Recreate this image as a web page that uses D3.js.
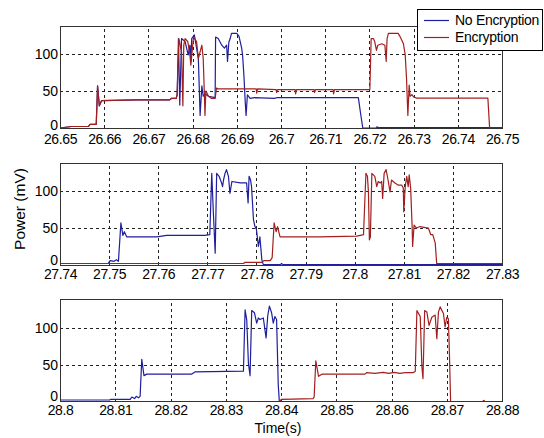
<!DOCTYPE html>
<html>
<head>
<meta charset="utf-8">
<script src="https://cdn.jsdelivr.net/npm/d3@7"></script>
<style>
  body { margin: 0; background: #fff; }
  text { font-family: "Liberation Sans", Arial, sans-serif; }
</style>
</head>
<body>
<svg id="chart" width="544" height="438"></svg>
<script>
// --- data: [time (s), power (mV)] ---
const seriesNames = ["No Encryption", "Encryption"]
const yTicks = [0, 50, 100]

const xTicks1 = [26.65, 26.66, 26.67, 26.68, 26.69, 26.70, 26.71, 26.72, 26.73, 26.74, 26.75]
const xLabels1 = ["26.65", "26.66", "26.67", "26.68", "26.69", "26.7", "26.71", "26.72", "26.73", "26.74", "26.75"]
const xTicks2 = [27.74, 27.75, 27.76, 27.77, 27.78, 27.79, 27.80, 27.81, 27.82, 27.83]
const xLabels2 = ["27.74", "27.75", "27.76", "27.77", "27.78", "27.79", "27.8", "27.81", "27.82", "27.83"]
const xTicks3 = [28.80, 28.81, 28.82, 28.83, 28.84, 28.85, 28.86, 28.87, 28.88]
const xLabels3 = ["28.8", "28.81", "28.82", "28.83", "28.84", "28.85", "28.86", "28.87", "28.88"]

const noEnc1 = [
  [26.65,0],[26.6526,2],[26.6564,2],[26.6568,5],[26.6582,5],[26.6585,57],[26.6589,30],[26.6594,37],
  [26.6673,38],[26.6748,38],[26.6752,40],[26.6763,40],[26.6765,45],
  [26.6768,121],[26.6771,31],[26.6775,121],[26.6783,117],[26.679,99],[26.6794,112],[26.6796,90],
  [26.6798,121],[26.6804,126],[26.6809,108],[26.6813,94],[26.6815,56],[26.6817,17],[26.6821,57],
  [26.6824,43],[26.6828,46],[26.6836,43],[26.6851,41],[26.6852,123],[26.6858,121],[26.6866,112],
  [26.6872,108],[26.6877,112],[26.6879,90],[26.6882,116],[26.6885,121],[26.6888,128],[26.69,128],
  [26.6905,124],[26.6911,108],[26.6913,99],[26.6916,72],[26.6919,36],[26.6921,17],[26.6924,45],
  [26.693,40],[26.694,41],[26.6985,40],[26.699,41],[26.7175,41],[26.718,20],[26.7185,0],
  [26.7215,0],[26.7217,1.5],[26.722,0.5],[26.75,0.5]
]
const enc1 = [
  [26.65,0],[26.6526,2],[26.6564,2],[26.6568,5],[26.6582,5],[26.6585,57],[26.6589,30],[26.6594,37],
  [26.6673,38],[26.6748,38],[26.6752,40],[26.6763,40],[26.6765,45],
  [26.6769,121],[26.6775,103],[26.6778,30],[26.678,112],[26.6783,121],[26.6789,117],[26.6794,99],
  [26.6796,85],[26.6802,123],[26.6809,117],[26.6813,94],[26.6817,103],[26.6821,112],[26.6824,94],
  [26.6826,58],[26.6828,17],[26.683,50],[26.6836,43],[26.6843,40],[26.6851,40],[26.6854,54],
  [26.6858,53],[26.6944,53],[26.6945,47],[26.6947,53],[26.6989,52],[26.699,48],[26.6992,52],
  [26.7032,52],[26.7033,46],[26.7035,52],[26.7075,52],[26.7076,48],[26.7078,52],[26.7118,52],
  [26.7119,46],[26.7121,52],[26.7201,52],
  [26.7204,121],[26.7209,121],[26.7212,117],[26.7216,105],[26.7219,112],[26.7228,114],[26.7235,112],
  [26.7238,90],[26.724,121],[26.7243,128],[26.7265,128],[26.7269,124],[26.7277,114],[26.7281,99],
  [26.7284,67],[26.7287,17],[26.729,58],[26.7292,43],[26.7296,45],[26.73,42],[26.7307,40.5],
  [26.7468,40.5],[26.7472,0],[26.75,0]
]

const noEnc2 = [
  [27.74,2],[27.7498,2],[27.7502,6],[27.751,5],[27.7515,7],[27.7519,5],[27.7524,57],[27.7528,40],
  [27.7531,45],[27.7536,38],[27.7597,38],[27.7617,40],[27.7695,40],[27.7705,41],
  [27.7709,124],[27.7712,75],[27.7716,16],[27.7719,124],[27.7724,120],[27.7729,111],[27.7731,106],
  [27.7733,115],[27.7736,124],[27.7739,129],[27.7743,120],[27.7746,97],[27.775,113],[27.7767,111],
  [27.778,111],[27.7783,84],[27.7785,120],[27.7788,115],[27.779,106],[27.7794,61],[27.7797,52],
  [27.78,48],[27.7804,25],[27.7807,38],[27.7811,7],[27.7814,0.5],[27.7849,0.5],[27.7851,2],
  [27.7854,0.5],[27.83,0.5]
]
const enc2 = [
  [27.74,2],[27.7774,2],[27.7776,3.5],[27.7811,3.5],[27.7815,6],[27.7828,6],[27.7832,10],
  [27.7836,57],[27.784,45],[27.7843,52],[27.7848,38],[27.7929,38],[27.8004,39],[27.8014,40.5],
  [27.8018,41],[27.802,75],[27.8023,124],[27.8026,120],[27.8028,99],[27.803,34],[27.8032,38],
  [27.8035,124],[27.8041,120],[27.8045,106],[27.8048,113],[27.8052,111],[27.8055,113],[27.8057,90],
  [27.806,124],[27.8064,129],[27.8068,115],[27.8072,99],[27.8075,115],[27.8082,111],[27.8089,108],
  [27.8096,108],[27.8099,104],[27.81,72],[27.8103,106],[27.8106,120],[27.8109,106],[27.8111,122],
  [27.8114,104],[27.8117,52],[27.8118,25],[27.8121,54],[27.8126,50],[27.8133,52],[27.815,50],
  [27.8155,41],[27.8159,41],[27.8164,30],[27.8167,2],[27.83,2]
]

const noEnc3 = [
  [28.8,2],[28.809,2],[28.8092,3],[28.8127,3],[28.813,6],[28.8135,4],[28.8138,7],[28.8142,5],
  [28.8145,7],[28.8148,57],[28.8152,35],[28.8157,37],[28.8238,37],[28.8244,40],[28.8332,41],
  [28.8335,124],[28.8338,110],[28.8341,52],[28.8344,35],[28.8347,123],[28.8352,120],[28.8356,106],
  [28.8359,113],[28.8362,111],[28.8368,113],[28.8373,86],[28.8376,116],[28.8379,129],[28.8383,120],
  [28.8386,106],[28.8389,115],[28.8392,111],[28.8395,23],[28.8397,0],[28.88,0]
]
const enc3 = [
  [28.8,0],[28.8397,0],[28.8401,3],[28.8458,4],[28.846,6],[28.8463,55],[28.8468,34],[28.8474,37],
  [28.8552,37],[28.8555,39],[28.857,38],[28.8585,39.5],[28.8595,38],[28.8605,39.5],[28.8615,38],
  [28.8625,39],[28.8639,39],[28.8643,41],[28.8646,123],[28.8652,115],[28.8655,47],[28.8657,31],
  [28.866,123],[28.8664,121],[28.8668,103],[28.8673,114],[28.8679,117],[28.8682,85],[28.8685,121],
  [28.8688,128],[28.8694,119],[28.8697,101],[28.87,114],[28.8703,112],[28.8705,60],[28.8707,0],
  [28.8765,0],[28.8767,1.5],[28.8769,0],[28.88,0]
]

// --- layout ---
const left = 60
const right = 502
const yMax = 138
const colors = ["#1f1f9e", "#a31f1f"]

const panels = [
  { top: 26, bottom: 128, ticks: xTicks1, labels: xLabels1, series: [noEnc1, enc1], pad: 6.5, zeroDy: "0.1em" },
  { top: 163, bottom: 265, ticks: xTicks2, labels: xLabels2, series: [noEnc2, enc2], pad: 4, zeroDy: "-0.05em" },
  { top: 299.5, bottom: 401.5, ticks: xTicks3, labels: xLabels3, series: [noEnc3, enc3], pad: 4, zeroDy: "-0.05em" }
]

const svg = d3.select("#chart")

panels.forEach(p => {
  const x = d3.scaleLinear()
    .domain([p.ticks[0], p.ticks[p.ticks.length - 1]])
    .range([left, right])
  const y = d3.scaleLinear()
    .domain([0, yMax])
    .range([p.bottom, p.top])
  const h = p.bottom - p.top

  const g = svg.append("g")

  // dashed grid
  g.append("g")
    .attr("transform", `translate(0,${p.bottom})`)
    .call(d3.axisBottom(x).tickValues(p.ticks).tickSize(-h).tickFormat(""))
    .call(s => s.select(".domain").remove())
    .selectAll("line")
    .attr("stroke", "#222")
    .attr("stroke-dasharray", "3,3")
    .attr("shape-rendering", "crispEdges")

  g.append("g")
    .attr("transform", `translate(${left},0)`)
    .call(d3.axisLeft(y).tickValues(yTicks.slice(1)).tickSize(-(right - left)).tickFormat(""))
    .call(s => s.select(".domain").remove())
    .selectAll("line")
    .attr("stroke", "#222")
    .attr("stroke-dasharray", "3,3")
    .attr("shape-rendering", "crispEdges")

  // traces
  const line = d3.line()
    .x(d => x(d[0]))
    .y(d => y(d[1]))

  p.series.forEach((s, i) => {
    g.append("path")
      .datum(s)
      .attr("fill", "none")
      .attr("stroke", colors[i])
      .attr("stroke-width", 1.2)
      .attr("stroke-linejoin", "round")
      .attr("d", line)
  })

  // frame
  g.append("rect")
    .attr("x", left)
    .attr("y", p.top)
    .attr("width", right - left)
    .attr("height", h)
    .attr("fill", "none")
    .attr("stroke", "#333")
    .attr("stroke-width", 1)
    .attr("shape-rendering", "crispEdges")

  // tick labels
  const xAxis = g.append("g")
    .attr("transform", `translate(0,${p.bottom})`)
    .call(d3.axisBottom(x).tickValues(p.ticks).tickSize(0).tickPadding(p.pad)
      .tickFormat((d, i) => p.labels[i]))
  xAxis.select(".domain").remove()
  xAxis.selectAll("text")
    .attr("font-family", "Liberation Sans, Arial, sans-serif")
    .attr("font-size", 14)
    .attr("letter-spacing", -0.4)
    .attr("fill", "#000")

  const yAxis = g.append("g")
    .attr("transform", `translate(${left},0)`)
    .call(d3.axisLeft(y).tickValues(yTicks).tickSize(0).tickPadding(2))
  yAxis.select(".domain").remove()
  yAxis.selectAll("text")
    .attr("font-family", "Liberation Sans, Arial, sans-serif")
    .attr("font-size", 14)
    .attr("fill", "#000")
    .attr("dy", d => d === 0 ? p.zeroDy : "0.32em")
})

// axis titles
svg.append("text")
  .attr("transform", "translate(19,209) rotate(-90)")
  .attr("text-anchor", "middle")
  .attr("dominant-baseline", "central")
  .attr("font-size", 15.5)
  .text("Power (mV)")

svg.append("text")
  .attr("x", 278)
  .attr("y", 433)
  .attr("text-anchor", "middle")
  .attr("font-size", 14)
  .text("Time(s)")

// legend
const legend = svg.append("g")
legend.append("rect")
  .attr("x", 417.5)
  .attr("y", 9.5)
  .attr("width", 125)
  .attr("height", 41)
  .attr("fill", "#fff")
  .attr("stroke", "#000")
  .attr("stroke-width", 1)

seriesNames.forEach((name, i) => {
  const ly = 20.5 + i * 17
  legend.append("line")
    .attr("x1", 424)
    .attr("x2", 449)
    .attr("y1", ly)
    .attr("y2", ly)
    .attr("stroke", colors[i])
    .attr("stroke-width", 1.2)
  legend.append("text")
    .attr("x", 455)
    .attr("y", ly)
    .attr("dy", "0.35em")
    .attr("font-size", 14)
    .attr("letter-spacing", -0.3)
    .text(name)
})
</script>
</body>
</html>
